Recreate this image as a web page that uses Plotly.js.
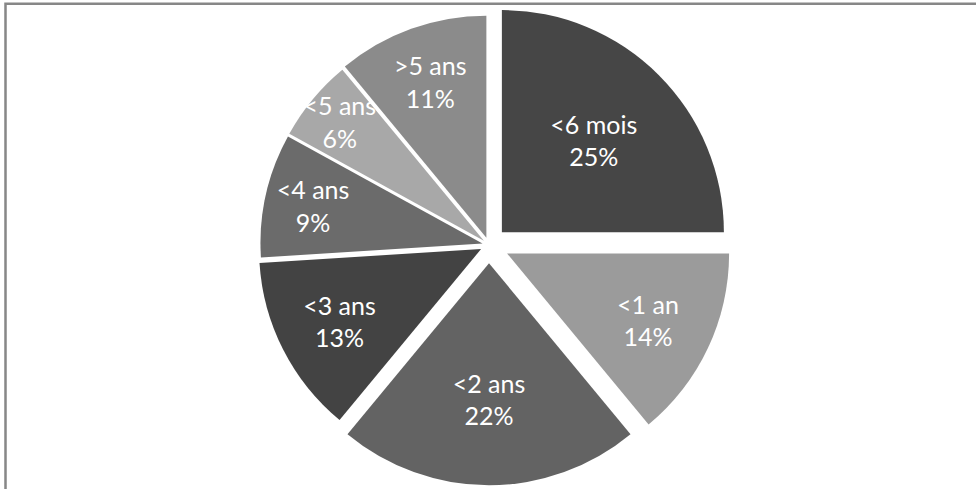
<!DOCTYPE html>
<html>
<head>
<meta charset="utf-8">
<script src="https://cdn.plot.ly/plotly-3.0.1.min.js"></script>
<style>
  html, body { margin: 0; padding: 0; width: 976px; height: 489px; overflow: hidden; background: #fff; }
  #chart { width: 976px; height: 489px; }
</style>
</head>
<body>
<div id="chart"></div>
<script>
const categories = ["<6 mois", "<1 an", "<2 ans", "<3 ans", "<4 ans", "<5 ans", ">5 ans"];
const values = [25, 14, 22, 13, 9, 6, 11];
const sliceColors = ["#464646", "#9b9b9b", "#636363", "#434343", "#6b6b6b", "#a8a8a8", "#8b8b8b"];
const pulls = [0.082, 0.09, 0.082, 0.04, 0.03, 0.03, 0.035];

const trace = {
  type: "pie",
  labels: categories,
  values: values,
  sort: false,
  direction: "clockwise",
  rotation: 0,
  pull: pulls,
  marker: { colors: sliceColors, line: { color: "#ffffff", width: 0 } },
  texttemplate: "%{label}<br>%{percent:.0%}",
  textposition: "inside",
  insidetextorientation: "horizontal",
  textfont: { family: "Lato, 'Open Sans', sans-serif", size: 25, color: "#ffffff" },
  hoverinfo: "none",
  showlegend: false
};

const W = 976, H = 489;
const mL = 2, mR = 0, mT = 3, mB = 2;
const plotW = W - mL - mR, plotH = H - mT - mB;
const layout = {
  width: W,
  height: H,
  margin: { l: mL, r: mR, t: mT, b: mB },
  paper_bgcolor: "#ffffff",
  showlegend: false,
  uniformtext: { mode: "show", minsize: 25 },
  shapes: [{
    type: "rect",
    xref: "paper", yref: "paper",
    x0: (5.5 - mL) / plotW, x1: 1.05,
    y0: -0.2, y1: 1 - (3.8 - mT) / plotH,
    line: { color: "#878787", width: 2.5 },
    fillcolor: "rgba(0,0,0,0)",
    layer: "below"
  }]
};

Plotly.newPlot("chart", [trace], layout, { displayModeBar: false, staticPlot: true });
</script>
</body>
</html>
